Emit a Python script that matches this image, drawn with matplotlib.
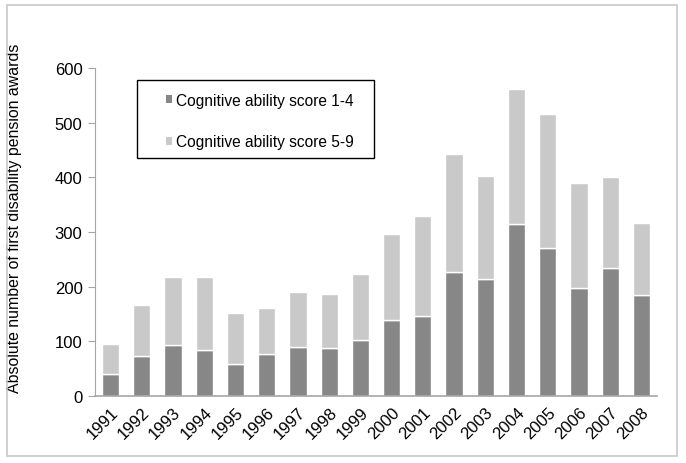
import numpy as np
import matplotlib.pyplot as plt
from matplotlib.patches import Rectangle

plt.rcParams["font.family"] = ["Liberation Sans", "DejaVu Sans"]

years = [str(y) for y in range(1991, 2009)]
# cognitive ability score 1-4 (bottom segment)
low_scores = [41, 74, 93, 84, 59, 76, 90, 87, 102, 139, 146, 226, 214, 314, 270, 197, 234, 185]
# cognitive ability score 5-9 (top segment)
high_scores = [54, 92, 125, 134, 92, 85, 101, 99, 121, 157, 184, 217, 189, 248, 246, 192, 167, 132]

dark = "#878787"
light = "#c9c9c9"

fig = plt.figure(figsize=(6.86, 4.64), dpi=100)
ax = fig.add_axes([0.1385, 0.1444, 0.8192, 0.7069])

# outer light grey frame around the whole chart
fig.patches.append(Rectangle((7 / 686, 7 / 464), 670 / 686, 451 / 464,
                             transform=fig.transFigure, fill=False,
                             edgecolor="#c8c8c8", linewidth=1.2))

x = np.arange(len(years))
ax.bar(x, low_scores, width=0.55, color=dark, edgecolor="white",
       linewidth=1, label="Cognitive ability score 1-4")
ax.bar(x, high_scores, width=0.55, bottom=low_scores, color=light,
       edgecolor="white", linewidth=1, label="Cognitive ability score 5-9")

ax.set_xlim(-0.5, len(years) - 0.5)
ax.set_ylim(0, 600)
ax.set_yticks(range(0, 601, 100))
ax.set_xticks(x)
ax.set_xticklabels(years, rotation=45, ha="right", rotation_mode="anchor")

for side in ["top", "right"]:
    ax.spines[side].set_visible(False)
ax.spines["left"].set_color("#a6a6a6")
ax.spines["bottom"].set_color("#a6a6a6")
ax.spines["bottom"].set_linewidth(1.2)
ax.tick_params(axis="y", length=5, color="#a6a6a6", labelsize=12, pad=4)
ax.tick_params(axis="x", length=0, labelsize=12, pad=6)

ax.set_ylabel("Absolute number of first disability pension awards",
              fontsize=11.4)
ax.yaxis.set_label_coords(-0.13, 0.544)

# legend box drawn separately so the entries can sit well inside it
ax.add_patch(Rectangle((0.0747, 0.7256), 0.4217, 0.2378,
                       transform=ax.transAxes, facecolor="white",
                       edgecolor="black", linewidth=1.0, zorder=5))
leg = ax.legend(loc="upper left", bbox_to_anchor=(0.1263, 0.924),
                fontsize=11.2, frameon=False, handlelength=0.4,
                handleheight=0.4, handletextpad=0.25, labelspacing=1.7,
                borderpad=0, borderaxespad=0)
leg.set_zorder(6)
for h in leg.legend_handles:
    h.set_edgecolor("none")

fig.savefig("out.png", dpi=100)
